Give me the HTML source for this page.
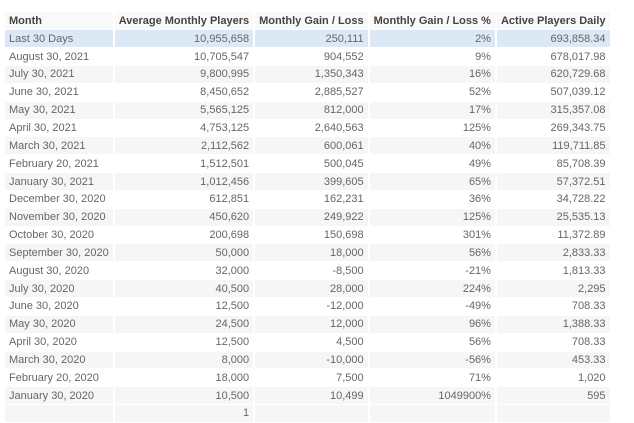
<!DOCTYPE html>
<html><head><meta charset="utf-8"><style>
body{margin:0;background:#fff;width:634px;height:421px;overflow:hidden;font-family:"Liberation Sans",Arial,sans-serif;}
table{position:absolute;left:5px;top:12px;border-collapse:collapse;font-size:11px;color:#666;}
td,th{height:17.85px;padding:0 4px;white-space:nowrap;border-right:2px solid #fff;border-bottom:1px solid #fff;box-sizing:border-box;}
th{color:#444;font-weight:bold;text-align:right;background:#f9f9f9}
th:first-child{text-align:left}
td{text-align:right}
td:first-child{text-align:left}
tr:nth-child(even) td{background:#f6f6f6}
tr:nth-child(odd) td{background:#fff}
tr.hl td{background:#dbe9f6}
tr.last td{background:#f6f6f6}
col.c1{width:107px}col.c2{width:140px}col.c3{width:114px}col.c4{width:127px}col.c5{width:112px}
</style></head><body>
<table>
<colgroup><col class="c1"><col class="c2"><col class="c3"><col class="c4"><col class="c5"></colgroup>
<tr><th>Month</th><th>Average Monthly Players</th><th>Monthly Gain / Loss</th><th>Monthly Gain / Loss %</th><th>Active Players Daily</th></tr>
<tr class="hl"><td>Last 30 Days</td><td>10,955,658</td><td>250,111</td><td>2%</td><td>693,858.34</td></tr>
<tr><td>August 30, 2021</td><td>10,705,547</td><td>904,552</td><td>9%</td><td>678,017.98</td></tr>
<tr><td>July 30, 2021</td><td>9,800,995</td><td>1,350,343</td><td>16%</td><td>620,729.68</td></tr>
<tr><td>June 30, 2021</td><td>8,450,652</td><td>2,885,527</td><td>52%</td><td>507,039.12</td></tr>
<tr><td>May 30, 2021</td><td>5,565,125</td><td>812,000</td><td>17%</td><td>315,357.08</td></tr>
<tr><td>April 30, 2021</td><td>4,753,125</td><td>2,640,563</td><td>125%</td><td>269,343.75</td></tr>
<tr><td>March 30, 2021</td><td>2,112,562</td><td>600,061</td><td>40%</td><td>119,711.85</td></tr>
<tr><td>February 20, 2021</td><td>1,512,501</td><td>500,045</td><td>49%</td><td>85,708.39</td></tr>
<tr><td>January 30, 2021</td><td>1,012,456</td><td>399,605</td><td>65%</td><td>57,372.51</td></tr>
<tr><td>December 30, 2020</td><td>612,851</td><td>162,231</td><td>36%</td><td>34,728.22</td></tr>
<tr><td>November 30, 2020</td><td>450,620</td><td>249,922</td><td>125%</td><td>25,535.13</td></tr>
<tr><td>October 30, 2020</td><td>200,698</td><td>150,698</td><td>301%</td><td>11,372.89</td></tr>
<tr><td>September 30, 2020</td><td>50,000</td><td>18,000</td><td>56%</td><td>2,833.33</td></tr>
<tr><td>August 30, 2020</td><td>32,000</td><td>-8,500</td><td>-21%</td><td>1,813.33</td></tr>
<tr><td>July 30, 2020</td><td>40,500</td><td>28,000</td><td>224%</td><td>2,295</td></tr>
<tr><td>June 30, 2020</td><td>12,500</td><td>-12,000</td><td>-49%</td><td>708.33</td></tr>
<tr><td>May 30, 2020</td><td>24,500</td><td>12,000</td><td>96%</td><td>1,388.33</td></tr>
<tr><td>April 30, 2020</td><td>12,500</td><td>4,500</td><td>56%</td><td>708.33</td></tr>
<tr><td>March 30, 2020</td><td>8,000</td><td>-10,000</td><td>-56%</td><td>453.33</td></tr>
<tr><td>February 20, 2020</td><td>18,000</td><td>7,500</td><td>71%</td><td>1,020</td></tr>
<tr><td>January 30, 2020</td><td>10,500</td><td>10,499</td><td>1049900%</td><td>595</td></tr>
<tr class="last"><td></td><td>1</td><td></td><td></td><td></td></tr>
</table>
</body></html>
